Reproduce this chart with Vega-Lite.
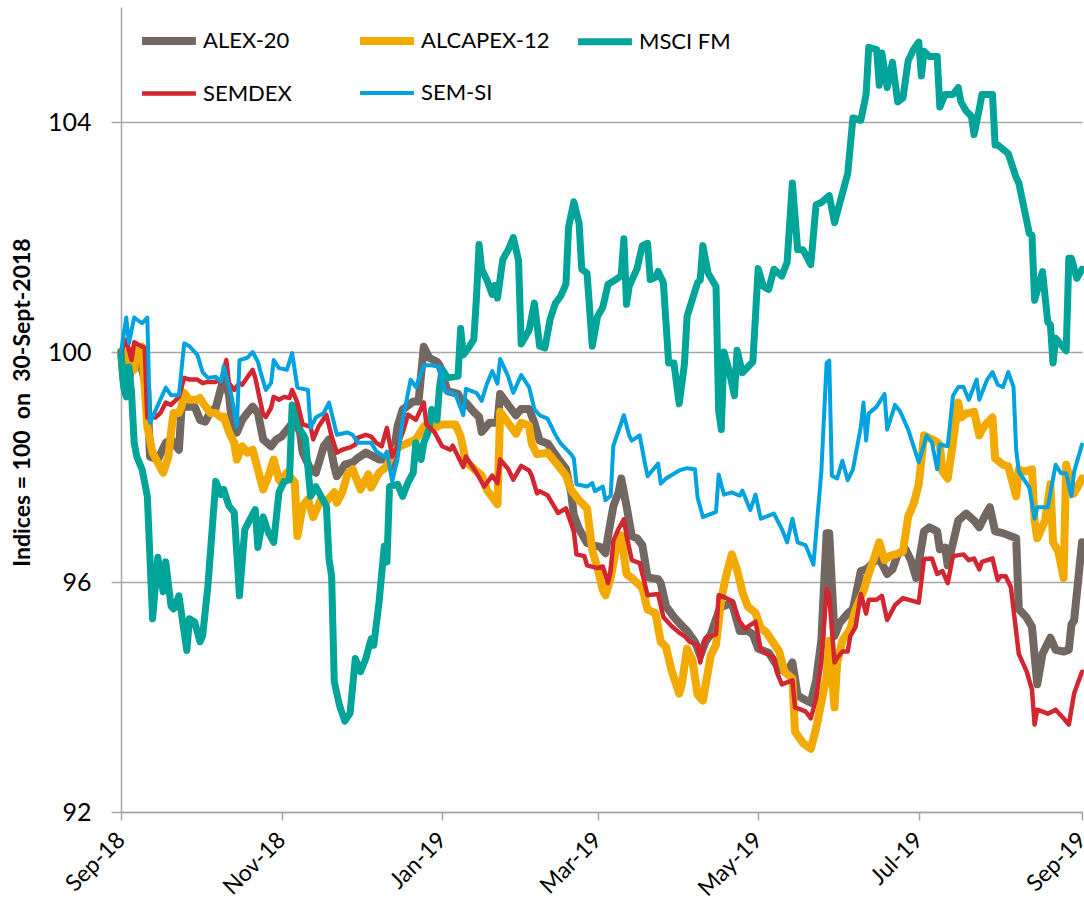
{
"$schema": "https://vega.github.io/schema/vega-lite/v6.json",
"width": 961, "height": 805,
"autosize": {"type": "none"},
"padding": {"left": 121, "top": 7, "right": 2, "bottom": 94},
"background": "white",
"config": {"view": {"stroke": null}, "font": "Lato"},
"data": {"values": [
{"date":"2018/09/30","series":"ALEX-20","value":100.0},{"date":"2018/10/01","series":"ALEX-20","value":99.5},{"date":"2018/10/02","series":"ALEX-20","value":99.29},{"date":"2018/10/04","series":"ALEX-20","value":99.74},{"date":"2018/10/06","series":"ALEX-20","value":99.98},{"date":"2018/10/08","series":"ALEX-20","value":99.69},{"date":"2018/10/10","series":"ALEX-20","value":99.34},{"date":"2018/10/11","series":"ALEX-20","value":98.18},{"date":"2018/10/14","series":"ALEX-20","value":98.13},{"date":"2018/10/17","series":"ALEX-20","value":98.42},{"date":"2018/10/19","series":"ALEX-20","value":98.48},{"date":"2018/10/22","series":"ALEX-20","value":98.3},{"date":"2018/10/23","series":"ALEX-20","value":99.03},{"date":"2018/10/25","series":"ALEX-20","value":99.05},{"date":"2018/10/28","series":"ALEX-20","value":99.05},{"date":"2018/10/30","series":"ALEX-20","value":98.82},{"date":"2018/11/01","series":"ALEX-20","value":98.79},{"date":"2018/11/03","series":"ALEX-20","value":98.96},{"date":"2018/11/05","series":"ALEX-20","value":99.03},{"date":"2018/11/08","series":"ALEX-20","value":99.55},{"date":"2018/11/10","series":"ALEX-20","value":99.26},{"date":"2018/11/11","series":"ALEX-20","value":98.82},{"date":"2018/11/13","series":"ALEX-20","value":98.6},{"date":"2018/11/15","series":"ALEX-20","value":98.82},{"date":"2018/11/17","series":"ALEX-20","value":98.94},{"date":"2018/11/19","series":"ALEX-20","value":99.05},{"date":"2018/11/21","series":"ALEX-20","value":98.94},{"date":"2018/11/23","series":"ALEX-20","value":98.48},{"date":"2018/11/26","series":"ALEX-20","value":98.36},{"date":"2018/11/28","series":"ALEX-20","value":98.48},{"date":"2018/11/30","series":"ALEX-20","value":98.53},{"date":"2018/12/03","series":"ALEX-20","value":98.7},{"date":"2018/12/05","series":"ALEX-20","value":98.82},{"date":"2018/12/07","series":"ALEX-20","value":98.6},{"date":"2018/12/08","series":"ALEX-20","value":98.25},{"date":"2018/12/11","series":"ALEX-20","value":97.96},{"date":"2018/12/13","series":"ALEX-20","value":97.9},{"date":"2018/12/16","series":"ALEX-20","value":98.36},{"date":"2018/12/18","series":"ALEX-20","value":98.48},{"date":"2018/12/20","series":"ALEX-20","value":98.01},{"date":"2018/12/21","series":"ALEX-20","value":97.84},{"date":"2018/12/24","series":"ALEX-20","value":98.04},{"date":"2018/12/27","series":"ALEX-20","value":98.08},{"date":"2018/12/29","series":"ALEX-20","value":98.16},{"date":"2019/01/01","series":"ALEX-20","value":98.25},{"date":"2019/01/04","series":"ALEX-20","value":98.18},{"date":"2019/01/06","series":"ALEX-20","value":98.13},{"date":"2019/01/09","series":"ALEX-20","value":98.13},{"date":"2019/01/11","series":"ALEX-20","value":98.01},{"date":"2019/01/13","series":"ALEX-20","value":98.7},{"date":"2019/01/15","series":"ALEX-20","value":99.0},{"date":"2019/01/19","series":"ALEX-20","value":99.14},{"date":"2019/01/21","series":"ALEX-20","value":99.14},{"date":"2019/01/23","series":"ALEX-20","value":100.09},{"date":"2019/01/25","series":"ALEX-20","value":99.9},{"date":"2019/01/28","series":"ALEX-20","value":99.83},{"date":"2019/01/29","series":"ALEX-20","value":99.77},{"date":"2019/02/01","series":"ALEX-20","value":99.32},{"date":"2019/02/05","series":"ALEX-20","value":99.27},{"date":"2019/02/07","series":"ALEX-20","value":99.08},{"date":"2019/02/08","series":"ALEX-20","value":99.12},{"date":"2019/02/11","series":"ALEX-20","value":98.96},{"date":"2019/02/13","series":"ALEX-20","value":98.87},{"date":"2019/02/14","series":"ALEX-20","value":98.61},{"date":"2019/02/17","series":"ALEX-20","value":98.77},{"date":"2019/02/20","series":"ALEX-20","value":98.77},{"date":"2019/02/21","series":"ALEX-20","value":99.27},{"date":"2019/02/24","series":"ALEX-20","value":99.08},{"date":"2019/02/27","series":"ALEX-20","value":98.9},{"date":"2019/03/01","series":"ALEX-20","value":99.01},{"date":"2019/03/04","series":"ALEX-20","value":99.01},{"date":"2019/03/06","series":"ALEX-20","value":98.77},{"date":"2019/03/08","series":"ALEX-20","value":98.46},{"date":"2019/03/11","series":"ALEX-20","value":98.41},{"date":"2019/03/15","series":"ALEX-20","value":98.15},{"date":"2019/03/18","series":"ALEX-20","value":97.97},{"date":"2019/03/20","series":"ALEX-20","value":97.54},{"date":"2019/03/21","series":"ALEX-20","value":97.16},{"date":"2019/03/23","series":"ALEX-20","value":96.92},{"date":"2019/03/26","series":"ALEX-20","value":96.68},{"date":"2019/03/28","series":"ALEX-20","value":96.64},{"date":"2019/03/31","series":"ALEX-20","value":96.61},{"date":"2019/04/02","series":"ALEX-20","value":96.5},{"date":"2019/04/03","series":"ALEX-20","value":96.8},{"date":"2019/04/05","series":"ALEX-20","value":97.32},{"date":"2019/04/07","series":"ALEX-20","value":97.56},{"date":"2019/04/08","series":"ALEX-20","value":97.8},{"date":"2019/04/10","series":"ALEX-20","value":97.32},{"date":"2019/04/12","series":"ALEX-20","value":96.8},{"date":"2019/04/14","series":"ALEX-20","value":96.76},{"date":"2019/04/16","series":"ALEX-20","value":96.64},{"date":"2019/04/18","series":"ALEX-20","value":96.08},{"date":"2019/04/22","series":"ALEX-20","value":96.05},{"date":"2019/04/23","series":"ALEX-20","value":95.98},{"date":"2019/04/25","series":"ALEX-20","value":95.58},{"date":"2019/04/28","series":"ALEX-20","value":95.39},{"date":"2019/05/01","series":"ALEX-20","value":95.24},{"date":"2019/05/03","series":"ALEX-20","value":95.15},{"date":"2019/05/06","series":"ALEX-20","value":94.96},{"date":"2019/05/08","series":"ALEX-20","value":94.72},{"date":"2019/05/10","series":"ALEX-20","value":94.96},{"date":"2019/05/12","series":"ALEX-20","value":95.09},{"date":"2019/05/16","series":"ALEX-20","value":95.62},{"date":"2019/05/17","series":"ALEX-20","value":95.58},{"date":"2019/05/20","series":"ALEX-20","value":95.64},{"date":"2019/05/23","series":"ALEX-20","value":95.15},{"date":"2019/05/26","series":"ALEX-20","value":95.15},{"date":"2019/05/28","series":"ALEX-20","value":95.09},{"date":"2019/05/30","series":"ALEX-20","value":94.84},{"date":"2019/06/03","series":"ALEX-20","value":94.77},{"date":"2019/06/07","series":"ALEX-20","value":94.48},{"date":"2019/06/10","series":"ALEX-20","value":94.44},{"date":"2019/06/12","series":"ALEX-20","value":94.6},{"date":"2019/06/14","series":"ALEX-20","value":94.03},{"date":"2019/06/16","series":"ALEX-20","value":93.97},{"date":"2019/06/19","series":"ALEX-20","value":93.9},{"date":"2019/06/21","series":"ALEX-20","value":94.29},{"date":"2019/06/23","series":"ALEX-20","value":94.98},{"date":"2019/06/25","series":"ALEX-20","value":96.85},{"date":"2019/06/26","series":"ALEX-20","value":96.85},{"date":"2019/06/28","series":"ALEX-20","value":95.06},{"date":"2019/06/30","series":"ALEX-20","value":95.29},{"date":"2019/07/03","series":"ALEX-20","value":95.45},{"date":"2019/07/05","series":"ALEX-20","value":95.53},{"date":"2019/07/08","series":"ALEX-20","value":96.19},{"date":"2019/07/10","series":"ALEX-20","value":96.22},{"date":"2019/07/13","series":"ALEX-20","value":96.35},{"date":"2019/07/15","series":"ALEX-20","value":96.41},{"date":"2019/07/18","series":"ALEX-20","value":96.14},{"date":"2019/07/20","series":"ALEX-20","value":96.22},{"date":"2019/07/22","series":"ALEX-20","value":96.48},{"date":"2019/07/25","series":"ALEX-20","value":96.57},{"date":"2019/07/27","series":"ALEX-20","value":96.38},{"date":"2019/07/29","series":"ALEX-20","value":96.07},{"date":"2019/08/01","series":"ALEX-20","value":96.88},{"date":"2019/08/03","series":"ALEX-20","value":96.95},{"date":"2019/08/06","series":"ALEX-20","value":96.88},{"date":"2019/08/07","series":"ALEX-20","value":96.57},{"date":"2019/08/09","series":"ALEX-20","value":96.6},{"date":"2019/08/10","series":"ALEX-20","value":96.29},{"date":"2019/08/14","series":"ALEX-20","value":97.07},{"date":"2019/08/17","series":"ALEX-20","value":97.19},{"date":"2019/08/20","series":"ALEX-20","value":97.07},{"date":"2019/08/22","series":"ALEX-20","value":96.95},{"date":"2019/08/24","series":"ALEX-20","value":97.14},{"date":"2019/08/26","series":"ALEX-20","value":97.3},{"date":"2019/08/28","series":"ALEX-20","value":96.88},{"date":"2019/08/31","series":"ALEX-20","value":96.85},{"date":"2019/09/05","series":"ALEX-20","value":96.76},{"date":"2019/09/06","series":"ALEX-20","value":95.53},{"date":"2019/09/09","series":"ALEX-20","value":95.38},{"date":"2019/09/11","series":"ALEX-20","value":95.22},{"date":"2019/09/13","series":"ALEX-20","value":94.22},{"date":"2019/09/15","series":"ALEX-20","value":94.75},{"date":"2019/09/18","series":"ALEX-20","value":95.03},{"date":"2019/09/20","series":"ALEX-20","value":94.82},{"date":"2019/09/23","series":"ALEX-20","value":94.79},{"date":"2019/09/25","series":"ALEX-20","value":94.82},{"date":"2019/09/26","series":"ALEX-20","value":95.26},{"date":"2019/09/27","series":"ALEX-20","value":95.33},{"date":"2019/09/30","series":"ALEX-20","value":96.69},
{"date":"2018/09/30","series":"ALCAPEX-12","value":100.0},{"date":"2018/10/01","series":"ALCAPEX-12","value":99.74},{"date":"2018/10/03","series":"ALCAPEX-12","value":100.03},{"date":"2018/10/05","series":"ALCAPEX-12","value":99.69},{"date":"2018/10/06","series":"ALCAPEX-12","value":100.03},{"date":"2018/10/08","series":"ALCAPEX-12","value":100.09},{"date":"2018/10/10","series":"ALCAPEX-12","value":98.7},{"date":"2018/10/12","series":"ALCAPEX-12","value":98.25},{"date":"2018/10/16","series":"ALCAPEX-12","value":97.9},{"date":"2018/10/18","series":"ALCAPEX-12","value":98.18},{"date":"2018/10/19","series":"ALCAPEX-12","value":98.6},{"date":"2018/10/20","series":"ALCAPEX-12","value":98.94},{"date":"2018/10/22","series":"ALCAPEX-12","value":98.94},{"date":"2018/10/23","series":"ALCAPEX-12","value":99.05},{"date":"2018/10/24","series":"ALCAPEX-12","value":99.29},{"date":"2018/10/26","series":"ALCAPEX-12","value":99.17},{"date":"2018/10/29","series":"ALCAPEX-12","value":99.17},{"date":"2018/10/30","series":"ALCAPEX-12","value":99.2},{"date":"2018/10/31","series":"ALCAPEX-12","value":99.12},{"date":"2018/11/03","series":"ALCAPEX-12","value":98.94},{"date":"2018/11/05","series":"ALCAPEX-12","value":98.94},{"date":"2018/11/07","series":"ALCAPEX-12","value":98.86},{"date":"2018/11/08","series":"ALCAPEX-12","value":98.88},{"date":"2018/11/10","series":"ALCAPEX-12","value":98.61},{"date":"2018/11/12","series":"ALCAPEX-12","value":98.42},{"date":"2018/11/13","series":"ALCAPEX-12","value":98.13},{"date":"2018/11/15","series":"ALCAPEX-12","value":98.36},{"date":"2018/11/17","series":"ALCAPEX-12","value":98.25},{"date":"2018/11/19","series":"ALCAPEX-12","value":98.3},{"date":"2018/11/23","series":"ALCAPEX-12","value":97.61},{"date":"2018/11/25","series":"ALCAPEX-12","value":97.84},{"date":"2018/11/27","series":"ALCAPEX-12","value":98.13},{"date":"2018/11/29","series":"ALCAPEX-12","value":97.78},{"date":"2018/11/30","series":"ALCAPEX-12","value":97.73},{"date":"2018/12/02","series":"ALCAPEX-12","value":97.9},{"date":"2018/12/05","series":"ALCAPEX-12","value":97.73},{"date":"2018/12/06","series":"ALCAPEX-12","value":96.8},{"date":"2018/12/08","series":"ALCAPEX-12","value":97.32},{"date":"2018/12/10","series":"ALCAPEX-12","value":97.44},{"date":"2018/12/12","series":"ALCAPEX-12","value":97.13},{"date":"2018/12/15","series":"ALCAPEX-12","value":97.44},{"date":"2018/12/17","series":"ALCAPEX-12","value":97.4},{"date":"2018/12/20","series":"ALCAPEX-12","value":97.56},{"date":"2018/12/21","series":"ALCAPEX-12","value":97.38},{"date":"2018/12/23","series":"ALCAPEX-12","value":97.56},{"date":"2018/12/25","series":"ALCAPEX-12","value":97.87},{"date":"2018/12/27","series":"ALCAPEX-12","value":97.96},{"date":"2018/12/30","series":"ALCAPEX-12","value":97.61},{"date":"2019/01/02","series":"ALCAPEX-12","value":97.87},{"date":"2019/01/03","series":"ALCAPEX-12","value":97.64},{"date":"2019/01/06","series":"ALCAPEX-12","value":97.9},{"date":"2019/01/09","series":"ALCAPEX-12","value":98.01},{"date":"2019/01/11","series":"ALCAPEX-12","value":98.25},{"date":"2019/01/14","series":"ALCAPEX-12","value":98.36},{"date":"2019/01/17","series":"ALCAPEX-12","value":98.42},{"date":"2019/01/20","series":"ALCAPEX-12","value":98.48},{"date":"2019/01/23","series":"ALCAPEX-12","value":98.7},{"date":"2019/01/25","series":"ALCAPEX-12","value":98.77},{"date":"2019/01/28","series":"ALCAPEX-12","value":98.7},{"date":"2019/01/30","series":"ALCAPEX-12","value":98.74},{"date":"2019/02/04","series":"ALCAPEX-12","value":98.74},{"date":"2019/02/06","series":"ALCAPEX-12","value":98.53},{"date":"2019/02/08","series":"ALCAPEX-12","value":98.1},{"date":"2019/02/11","series":"ALCAPEX-12","value":97.97},{"date":"2019/02/14","series":"ALCAPEX-12","value":97.85},{"date":"2019/02/16","series":"ALCAPEX-12","value":97.6},{"date":"2019/02/20","series":"ALCAPEX-12","value":97.35},{"date":"2019/02/21","series":"ALCAPEX-12","value":98.96},{"date":"2019/02/24","series":"ALCAPEX-12","value":98.77},{"date":"2019/02/27","series":"ALCAPEX-12","value":98.58},{"date":"2019/03/01","series":"ALCAPEX-12","value":98.77},{"date":"2019/03/04","series":"ALCAPEX-12","value":98.72},{"date":"2019/03/05","series":"ALCAPEX-12","value":98.41},{"date":"2019/03/07","series":"ALCAPEX-12","value":98.22},{"date":"2019/03/11","series":"ALCAPEX-12","value":98.25},{"date":"2019/03/15","series":"ALCAPEX-12","value":98.03},{"date":"2019/03/18","series":"ALCAPEX-12","value":97.85},{"date":"2019/03/20","series":"ALCAPEX-12","value":97.6},{"date":"2019/03/23","series":"ALCAPEX-12","value":97.42},{"date":"2019/03/26","series":"ALCAPEX-12","value":97.28},{"date":"2019/03/28","series":"ALCAPEX-12","value":96.55},{"date":"2019/03/30","series":"ALCAPEX-12","value":96.24},{"date":"2019/04/01","series":"ALCAPEX-12","value":95.86},{"date":"2019/04/02","series":"ALCAPEX-12","value":95.77},{"date":"2019/04/04","series":"ALCAPEX-12","value":96.07},{"date":"2019/04/06","series":"ALCAPEX-12","value":96.57},{"date":"2019/04/08","series":"ALCAPEX-12","value":96.81},{"date":"2019/04/10","series":"ALCAPEX-12","value":96.14},{"date":"2019/04/12","series":"ALCAPEX-12","value":96.07},{"date":"2019/04/16","series":"ALCAPEX-12","value":95.9},{"date":"2019/04/18","series":"ALCAPEX-12","value":95.52},{"date":"2019/04/21","series":"ALCAPEX-12","value":95.46},{"date":"2019/04/23","series":"ALCAPEX-12","value":94.96},{"date":"2019/04/25","series":"ALCAPEX-12","value":94.87},{"date":"2019/04/27","series":"ALCAPEX-12","value":94.48},{"date":"2019/04/30","series":"ALCAPEX-12","value":94.06},{"date":"2019/05/01","series":"ALCAPEX-12","value":94.22},{"date":"2019/05/03","series":"ALCAPEX-12","value":94.84},{"date":"2019/05/05","series":"ALCAPEX-12","value":94.65},{"date":"2019/05/07","series":"ALCAPEX-12","value":94.04},{"date":"2019/05/09","series":"ALCAPEX-12","value":93.94},{"date":"2019/05/12","series":"ALCAPEX-12","value":94.72},{"date":"2019/05/14","series":"ALCAPEX-12","value":94.91},{"date":"2019/05/16","series":"ALCAPEX-12","value":95.71},{"date":"2019/05/18","series":"ALCAPEX-12","value":96.14},{"date":"2019/05/20","series":"ALCAPEX-12","value":96.48},{"date":"2019/05/22","series":"ALCAPEX-12","value":96.21},{"date":"2019/05/24","series":"ALCAPEX-12","value":95.83},{"date":"2019/05/26","series":"ALCAPEX-12","value":95.58},{"date":"2019/05/29","series":"ALCAPEX-12","value":95.46},{"date":"2019/05/31","series":"ALCAPEX-12","value":95.2},{"date":"2019/06/02","series":"ALCAPEX-12","value":95.13},{"date":"2019/06/03","series":"ALCAPEX-12","value":95.06},{"date":"2019/06/07","series":"ALCAPEX-12","value":94.79},{"date":"2019/06/09","series":"ALCAPEX-12","value":94.44},{"date":"2019/06/12","series":"ALCAPEX-12","value":94.32},{"date":"2019/06/13","series":"ALCAPEX-12","value":93.4},{"date":"2019/06/16","series":"ALCAPEX-12","value":93.2},{"date":"2019/06/19","series":"ALCAPEX-12","value":93.1},{"date":"2019/06/21","series":"ALCAPEX-12","value":93.45},{"date":"2019/06/22","series":"ALCAPEX-12","value":93.68},{"date":"2019/06/25","series":"ALCAPEX-12","value":94.37},{"date":"2019/06/26","series":"ALCAPEX-12","value":94.98},{"date":"2019/06/28","series":"ALCAPEX-12","value":93.82},{"date":"2019/06/29","series":"ALCAPEX-12","value":94.6},{"date":"2019/07/01","series":"ALCAPEX-12","value":94.98},{"date":"2019/07/04","series":"ALCAPEX-12","value":95.19},{"date":"2019/07/06","series":"ALCAPEX-12","value":95.53},{"date":"2019/07/09","series":"ALCAPEX-12","value":95.84},{"date":"2019/07/11","series":"ALCAPEX-12","value":96.14},{"date":"2019/07/13","series":"ALCAPEX-12","value":96.41},{"date":"2019/07/15","series":"ALCAPEX-12","value":96.69},{"date":"2019/07/17","series":"ALCAPEX-12","value":96.38},{"date":"2019/07/19","series":"ALCAPEX-12","value":96.45},{"date":"2019/07/21","series":"ALCAPEX-12","value":96.48},{"date":"2019/07/24","series":"ALCAPEX-12","value":96.53},{"date":"2019/07/26","series":"ALCAPEX-12","value":97.14},{"date":"2019/07/28","series":"ALCAPEX-12","value":97.35},{"date":"2019/07/30","series":"ALCAPEX-12","value":97.7},{"date":"2019/08/01","series":"ALCAPEX-12","value":98.55},{"date":"2019/08/03","series":"ALCAPEX-12","value":98.5},{"date":"2019/08/05","series":"ALCAPEX-12","value":98.46},{"date":"2019/08/07","series":"ALCAPEX-12","value":98.39},{"date":"2019/08/08","series":"ALCAPEX-12","value":97.92},{"date":"2019/08/10","series":"ALCAPEX-12","value":97.8},{"date":"2019/08/12","series":"ALCAPEX-12","value":98.43},{"date":"2019/08/14","series":"ALCAPEX-12","value":99.12},{"date":"2019/08/15","series":"ALCAPEX-12","value":98.86},{"date":"2019/08/17","series":"ALCAPEX-12","value":98.93},{"date":"2019/08/20","series":"ALCAPEX-12","value":98.96},{"date":"2019/08/22","series":"ALCAPEX-12","value":98.55},{"date":"2019/08/23","series":"ALCAPEX-12","value":98.65},{"date":"2019/08/25","series":"ALCAPEX-12","value":98.77},{"date":"2019/08/27","series":"ALCAPEX-12","value":98.86},{"date":"2019/08/28","series":"ALCAPEX-12","value":98.15},{"date":"2019/08/31","series":"ALCAPEX-12","value":98.04},{"date":"2019/09/02","series":"ALCAPEX-12","value":98.01},{"date":"2019/09/05","series":"ALCAPEX-12","value":97.49},{"date":"2019/09/06","series":"ALCAPEX-12","value":97.96},{"date":"2019/09/08","series":"ALCAPEX-12","value":97.92},{"date":"2019/09/11","series":"ALCAPEX-12","value":97.96},{"date":"2019/09/12","series":"ALCAPEX-12","value":97.07},{"date":"2019/09/13","series":"ALCAPEX-12","value":96.76},{"date":"2019/09/16","series":"ALCAPEX-12","value":97.07},{"date":"2019/09/18","series":"ALCAPEX-12","value":97.7},{"date":"2019/09/19","series":"ALCAPEX-12","value":96.69},{"date":"2019/09/21","series":"ALCAPEX-12","value":96.53},{"date":"2019/09/23","series":"ALCAPEX-12","value":96.07},{"date":"2019/09/24","series":"ALCAPEX-12","value":98.04},{"date":"2019/09/25","series":"ALCAPEX-12","value":97.85},{"date":"2019/09/27","series":"ALCAPEX-12","value":97.54},{"date":"2019/09/30","series":"ALCAPEX-12","value":97.8},
{"date":"2018/09/30","series":"MSCI FM","value":100.0},{"date":"2018/10/01","series":"MSCI FM","value":99.39},{"date":"2018/10/02","series":"MSCI FM","value":99.22},{"date":"2018/10/03","series":"MSCI FM","value":99.74},{"date":"2018/10/04","series":"MSCI FM","value":99.3},{"date":"2018/10/05","series":"MSCI FM","value":98.42},{"date":"2018/10/06","series":"MSCI FM","value":98.18},{"date":"2018/10/08","series":"MSCI FM","value":97.96},{"date":"2018/10/10","series":"MSCI FM","value":97.49},{"date":"2018/10/12","series":"MSCI FM","value":95.36},{"date":"2018/10/14","series":"MSCI FM","value":96.43},{"date":"2018/10/16","series":"MSCI FM","value":95.83},{"date":"2018/10/17","series":"MSCI FM","value":96.35},{"date":"2018/10/19","series":"MSCI FM","value":95.58},{"date":"2018/10/20","series":"MSCI FM","value":95.53},{"date":"2018/10/22","series":"MSCI FM","value":95.76},{"date":"2018/10/25","series":"MSCI FM","value":94.81},{"date":"2018/10/26","series":"MSCI FM","value":95.36},{"date":"2018/10/28","series":"MSCI FM","value":95.3},{"date":"2018/10/30","series":"MSCI FM","value":94.96},{"date":"2018/10/31","series":"MSCI FM","value":95.06},{"date":"2018/11/02","series":"MSCI FM","value":95.93},{"date":"2018/11/05","series":"MSCI FM","value":97.75},{"date":"2018/11/07","series":"MSCI FM","value":97.52},{"date":"2018/11/08","series":"MSCI FM","value":97.61},{"date":"2018/11/10","series":"MSCI FM","value":97.32},{"date":"2018/11/12","series":"MSCI FM","value":97.21},{"date":"2018/11/14","series":"MSCI FM","value":95.76},{"date":"2018/11/16","series":"MSCI FM","value":96.91},{"date":"2018/11/18","series":"MSCI FM","value":97.09},{"date":"2018/11/20","series":"MSCI FM","value":97.26},{"date":"2018/11/21","series":"MSCI FM","value":96.6},{"date":"2018/11/23","series":"MSCI FM","value":97.13},{"date":"2018/11/25","series":"MSCI FM","value":96.86},{"date":"2018/11/27","series":"MSCI FM","value":96.69},{"date":"2018/11/29","series":"MSCI FM","value":97.56},{"date":"2018/12/01","series":"MSCI FM","value":97.75},{"date":"2018/12/03","series":"MSCI FM","value":97.78},{"date":"2018/12/04","series":"MSCI FM","value":99.08},{"date":"2018/12/06","series":"MSCI FM","value":99.0},{"date":"2018/12/07","series":"MSCI FM","value":98.65},{"date":"2018/12/09","series":"MSCI FM","value":98.5},{"date":"2018/12/11","series":"MSCI FM","value":97.49},{"date":"2018/12/13","series":"MSCI FM","value":97.66},{"date":"2018/12/15","series":"MSCI FM","value":97.49},{"date":"2018/12/17","series":"MSCI FM","value":97.32},{"date":"2018/12/18","series":"MSCI FM","value":96.4},{"date":"2018/12/19","series":"MSCI FM","value":96.1},{"date":"2018/12/20","series":"MSCI FM","value":94.27},{"date":"2018/12/22","series":"MSCI FM","value":93.85},{"date":"2018/12/24","series":"MSCI FM","value":93.58},{"date":"2018/12/26","series":"MSCI FM","value":93.72},{"date":"2018/12/28","series":"MSCI FM","value":94.67},{"date":"2018/12/30","series":"MSCI FM","value":94.44},{"date":"2019/01/01","series":"MSCI FM","value":94.67},{"date":"2019/01/03","series":"MSCI FM","value":95.01},{"date":"2019/01/04","series":"MSCI FM","value":94.9},{"date":"2019/01/06","series":"MSCI FM","value":95.65},{"date":"2019/01/08","series":"MSCI FM","value":96.62},{"date":"2019/01/09","series":"MSCI FM","value":96.35},{"date":"2019/01/10","series":"MSCI FM","value":97.66},{"date":"2019/01/13","series":"MSCI FM","value":97.7},{"date":"2019/01/15","series":"MSCI FM","value":97.49},{"date":"2019/01/17","series":"MSCI FM","value":97.73},{"date":"2019/01/19","series":"MSCI FM","value":97.9},{"date":"2019/01/20","series":"MSCI FM","value":98.42},{"date":"2019/01/22","series":"MSCI FM","value":98.13},{"date":"2019/01/23","series":"MSCI FM","value":98.42},{"date":"2019/01/25","series":"MSCI FM","value":98.65},{"date":"2019/01/26","series":"MSCI FM","value":99.0},{"date":"2019/01/28","series":"MSCI FM","value":98.82},{"date":"2019/01/29","series":"MSCI FM","value":99.4},{"date":"2019/01/30","series":"MSCI FM","value":99.7},{"date":"2019/02/01","series":"MSCI FM","value":99.55},{"date":"2019/02/05","series":"MSCI FM","value":99.58},{"date":"2019/02/06","series":"MSCI FM","value":100.41},{"date":"2019/02/07","series":"MSCI FM","value":99.95},{"date":"2019/02/09","series":"MSCI FM","value":100.07},{"date":"2019/02/11","series":"MSCI FM","value":100.22},{"date":"2019/02/12","series":"MSCI FM","value":100.94},{"date":"2019/02/13","series":"MSCI FM","value":101.87},{"date":"2019/02/14","series":"MSCI FM","value":101.44},{"date":"2019/02/16","series":"MSCI FM","value":101.25},{"date":"2019/02/18","series":"MSCI FM","value":101.0},{"date":"2019/02/19","series":"MSCI FM","value":101.16},{"date":"2019/02/20","series":"MSCI FM","value":100.94},{"date":"2019/02/22","series":"MSCI FM","value":101.61},{"date":"2019/02/24","series":"MSCI FM","value":101.77},{"date":"2019/02/26","series":"MSCI FM","value":101.99},{"date":"2019/02/28","series":"MSCI FM","value":101.59},{"date":"2019/03/01","series":"MSCI FM","value":100.14},{"date":"2019/03/04","series":"MSCI FM","value":100.38},{"date":"2019/03/06","series":"MSCI FM","value":100.85},{"date":"2019/03/08","series":"MSCI FM","value":100.1},{"date":"2019/03/10","series":"MSCI FM","value":100.07},{"date":"2019/03/12","series":"MSCI FM","value":100.57},{"date":"2019/03/14","series":"MSCI FM","value":100.85},{"date":"2019/03/16","series":"MSCI FM","value":100.97},{"date":"2019/03/18","series":"MSCI FM","value":101.18},{"date":"2019/03/19","series":"MSCI FM","value":102.18},{"date":"2019/03/21","series":"MSCI FM","value":102.61},{"date":"2019/03/23","series":"MSCI FM","value":102.23},{"date":"2019/03/24","series":"MSCI FM","value":101.44},{"date":"2019/03/26","series":"MSCI FM","value":101.37},{"date":"2019/03/28","series":"MSCI FM","value":100.1},{"date":"2019/03/30","series":"MSCI FM","value":100.62},{"date":"2019/04/01","series":"MSCI FM","value":100.78},{"date":"2019/04/03","series":"MSCI FM","value":101.18},{"date":"2019/04/06","series":"MSCI FM","value":101.26},{"date":"2019/04/08","series":"MSCI FM","value":101.33},{"date":"2019/04/09","series":"MSCI FM","value":101.97},{"date":"2019/04/10","series":"MSCI FM","value":100.83},{"date":"2019/04/11","series":"MSCI FM","value":101.14},{"date":"2019/04/14","series":"MSCI FM","value":101.45},{"date":"2019/04/16","series":"MSCI FM","value":101.85},{"date":"2019/04/18","series":"MSCI FM","value":101.89},{"date":"2019/04/19","series":"MSCI FM","value":101.26},{"date":"2019/04/21","series":"MSCI FM","value":101.3},{"date":"2019/04/22","series":"MSCI FM","value":101.4},{"date":"2019/04/24","series":"MSCI FM","value":101.21},{"date":"2019/04/26","series":"MSCI FM","value":99.81},{"date":"2019/04/28","series":"MSCI FM","value":99.81},{"date":"2019/04/30","series":"MSCI FM","value":99.1},{"date":"2019/05/02","series":"MSCI FM","value":99.79},{"date":"2019/05/03","series":"MSCI FM","value":100.62},{"date":"2019/05/07","series":"MSCI FM","value":101.21},{"date":"2019/05/08","series":"MSCI FM","value":101.25},{"date":"2019/05/09","series":"MSCI FM","value":101.85},{"date":"2019/05/11","series":"MSCI FM","value":101.37},{"date":"2019/05/14","series":"MSCI FM","value":101.14},{"date":"2019/05/15","series":"MSCI FM","value":98.98},{"date":"2019/05/16","series":"MSCI FM","value":98.65},{"date":"2019/05/17","series":"MSCI FM","value":100.0},{"date":"2019/05/19","series":"MSCI FM","value":99.67},{"date":"2019/05/21","series":"MSCI FM","value":99.24},{"date":"2019/05/22","series":"MSCI FM","value":100.03},{"date":"2019/05/24","series":"MSCI FM","value":99.64},{"date":"2019/05/28","series":"MSCI FM","value":99.83},{"date":"2019/05/30","series":"MSCI FM","value":101.45},{"date":"2019/06/01","series":"MSCI FM","value":101.14},{"date":"2019/06/03","series":"MSCI FM","value":101.09},{"date":"2019/06/05","series":"MSCI FM","value":101.44},{"date":"2019/06/08","series":"MSCI FM","value":101.32},{"date":"2019/06/10","series":"MSCI FM","value":101.56},{"date":"2019/06/12","series":"MSCI FM","value":102.94},{"date":"2019/06/14","series":"MSCI FM","value":101.78},{"date":"2019/06/16","series":"MSCI FM","value":101.78},{"date":"2019/06/19","series":"MSCI FM","value":101.52},{"date":"2019/06/21","series":"MSCI FM","value":102.56},{"date":"2019/06/23","series":"MSCI FM","value":102.6},{"date":"2019/06/26","series":"MSCI FM","value":102.72},{"date":"2019/06/28","series":"MSCI FM","value":102.25},{"date":"2019/07/03","series":"MSCI FM","value":103.1},{"date":"2019/07/05","series":"MSCI FM","value":104.07},{"date":"2019/07/08","series":"MSCI FM","value":104.03},{"date":"2019/07/10","series":"MSCI FM","value":104.48},{"date":"2019/07/11","series":"MSCI FM","value":105.3},{"date":"2019/07/14","series":"MSCI FM","value":105.26},{"date":"2019/07/15","series":"MSCI FM","value":104.64},{"date":"2019/07/16","series":"MSCI FM","value":105.2},{"date":"2019/07/18","series":"MSCI FM","value":104.6},{"date":"2019/07/20","series":"MSCI FM","value":105.04},{"date":"2019/07/22","series":"MSCI FM","value":104.35},{"date":"2019/07/24","series":"MSCI FM","value":104.42},{"date":"2019/07/26","series":"MSCI FM","value":105.07},{"date":"2019/07/28","series":"MSCI FM","value":105.26},{"date":"2019/07/30","series":"MSCI FM","value":105.39},{"date":"2019/07/31","series":"MSCI FM","value":104.8},{"date":"2019/08/01","series":"MSCI FM","value":105.23},{"date":"2019/08/03","series":"MSCI FM","value":105.14},{"date":"2019/08/06","series":"MSCI FM","value":105.14},{"date":"2019/08/07","series":"MSCI FM","value":104.26},{"date":"2019/08/09","series":"MSCI FM","value":104.48},{"date":"2019/08/12","series":"MSCI FM","value":104.48},{"date":"2019/08/14","series":"MSCI FM","value":104.6},{"date":"2019/08/15","series":"MSCI FM","value":104.35},{"date":"2019/08/17","series":"MSCI FM","value":104.19},{"date":"2019/08/19","series":"MSCI FM","value":104.1},{"date":"2019/08/20","series":"MSCI FM","value":103.78},{"date":"2019/08/22","series":"MSCI FM","value":104.23},{"date":"2019/08/23","series":"MSCI FM","value":104.48},{"date":"2019/08/27","series":"MSCI FM","value":104.48},{"date":"2019/08/28","series":"MSCI FM","value":103.6},{"date":"2019/08/29","series":"MSCI FM","value":103.6},{"date":"2019/09/02","series":"MSCI FM","value":103.45},{"date":"2019/09/05","series":"MSCI FM","value":103.03},{"date":"2019/09/06","series":"MSCI FM","value":102.94},{"date":"2019/09/10","series":"MSCI FM","value":102.06},{"date":"2019/09/11","series":"MSCI FM","value":102.03},{"date":"2019/09/12","series":"MSCI FM","value":100.9},{"date":"2019/09/15","series":"MSCI FM","value":101.4},{"date":"2019/09/17","series":"MSCI FM","value":100.52},{"date":"2019/09/18","series":"MSCI FM","value":100.47},{"date":"2019/09/19","series":"MSCI FM","value":99.81},{"date":"2019/09/20","series":"MSCI FM","value":100.24},{"date":"2019/09/24","series":"MSCI FM","value":100.02},{"date":"2019/09/25","series":"MSCI FM","value":101.63},{"date":"2019/09/26","series":"MSCI FM","value":101.63},{"date":"2019/09/28","series":"MSCI FM","value":101.28},{"date":"2019/09/30","series":"MSCI FM","value":101.44},
{"date":"2018/09/30","series":"SEMDEX","value":100.0},{"date":"2018/10/02","series":"SEMDEX","value":100.21},{"date":"2018/10/04","series":"SEMDEX","value":99.86},{"date":"2018/10/05","series":"SEMDEX","value":100.17},{"date":"2018/10/07","series":"SEMDEX","value":100.12},{"date":"2018/10/09","series":"SEMDEX","value":100.07},{"date":"2018/10/10","series":"SEMDEX","value":98.86},{"date":"2018/10/13","series":"SEMDEX","value":98.86},{"date":"2018/10/15","series":"SEMDEX","value":98.94},{"date":"2018/10/17","series":"SEMDEX","value":99.12},{"date":"2018/10/19","series":"SEMDEX","value":99.08},{"date":"2018/10/21","series":"SEMDEX","value":99.17},{"date":"2018/10/22","series":"SEMDEX","value":99.22},{"date":"2018/10/24","series":"SEMDEX","value":99.55},{"date":"2018/10/26","series":"SEMDEX","value":99.52},{"date":"2018/10/29","series":"SEMDEX","value":99.52},{"date":"2018/10/31","series":"SEMDEX","value":99.46},{"date":"2018/11/02","series":"SEMDEX","value":99.48},{"date":"2018/11/05","series":"SEMDEX","value":99.48},{"date":"2018/11/06","series":"SEMDEX","value":99.52},{"date":"2018/11/07","series":"SEMDEX","value":99.46},{"date":"2018/11/09","series":"SEMDEX","value":99.86},{"date":"2018/11/10","series":"SEMDEX","value":99.46},{"date":"2018/11/12","series":"SEMDEX","value":99.34},{"date":"2018/11/14","series":"SEMDEX","value":99.46},{"date":"2018/11/15","series":"SEMDEX","value":99.43},{"date":"2018/11/19","series":"SEMDEX","value":99.69},{"date":"2018/11/20","series":"SEMDEX","value":99.55},{"date":"2018/11/23","series":"SEMDEX","value":98.91},{"date":"2018/11/24","series":"SEMDEX","value":98.87},{"date":"2018/11/26","series":"SEMDEX","value":99.03},{"date":"2018/11/27","series":"SEMDEX","value":99.22},{"date":"2018/11/29","series":"SEMDEX","value":99.17},{"date":"2018/12/01","series":"SEMDEX","value":99.22},{"date":"2018/12/03","series":"SEMDEX","value":99.2},{"date":"2018/12/04","series":"SEMDEX","value":99.34},{"date":"2018/12/06","series":"SEMDEX","value":99.12},{"date":"2018/12/08","series":"SEMDEX","value":98.74},{"date":"2018/12/11","series":"SEMDEX","value":98.7},{"date":"2018/12/12","series":"SEMDEX","value":98.48},{"date":"2018/12/14","series":"SEMDEX","value":98.7},{"date":"2018/12/17","series":"SEMDEX","value":98.91},{"date":"2018/12/19","series":"SEMDEX","value":98.53},{"date":"2018/12/21","series":"SEMDEX","value":98.25},{"date":"2018/12/23","series":"SEMDEX","value":98.3},{"date":"2018/12/26","series":"SEMDEX","value":98.34},{"date":"2018/12/28","series":"SEMDEX","value":98.39},{"date":"2018/12/29","series":"SEMDEX","value":98.51},{"date":"2019/01/01","series":"SEMDEX","value":98.56},{"date":"2019/01/03","series":"SEMDEX","value":98.53},{"date":"2019/01/05","series":"SEMDEX","value":98.42},{"date":"2019/01/07","series":"SEMDEX","value":98.36},{"date":"2019/01/09","series":"SEMDEX","value":98.68},{"date":"2019/01/11","series":"SEMDEX","value":98.18},{"date":"2019/01/13","series":"SEMDEX","value":98.36},{"date":"2019/01/15","series":"SEMDEX","value":98.6},{"date":"2019/01/17","series":"SEMDEX","value":98.91},{"date":"2019/01/20","series":"SEMDEX","value":98.82},{"date":"2019/01/23","series":"SEMDEX","value":99.12},{"date":"2019/01/24","series":"SEMDEX","value":98.74},{"date":"2019/01/27","series":"SEMDEX","value":98.61},{"date":"2019/01/30","series":"SEMDEX","value":98.36},{"date":"2019/02/02","series":"SEMDEX","value":98.3},{"date":"2019/02/03","series":"SEMDEX","value":98.37},{"date":"2019/02/07","series":"SEMDEX","value":98.0},{"date":"2019/02/08","series":"SEMDEX","value":98.18},{"date":"2019/02/12","series":"SEMDEX","value":97.9},{"date":"2019/02/15","series":"SEMDEX","value":97.66},{"date":"2019/02/18","series":"SEMDEX","value":97.85},{"date":"2019/02/20","series":"SEMDEX","value":97.72},{"date":"2019/02/21","series":"SEMDEX","value":98.13},{"date":"2019/02/24","series":"SEMDEX","value":97.97},{"date":"2019/02/26","series":"SEMDEX","value":97.78},{"date":"2019/03/01","series":"SEMDEX","value":98.02},{"date":"2019/03/04","series":"SEMDEX","value":97.94},{"date":"2019/03/05","series":"SEMDEX","value":97.85},{"date":"2019/03/07","series":"SEMDEX","value":97.54},{"date":"2019/03/08","series":"SEMDEX","value":97.58},{"date":"2019/03/11","series":"SEMDEX","value":97.51},{"date":"2019/03/15","series":"SEMDEX","value":97.2},{"date":"2019/03/18","series":"SEMDEX","value":97.28},{"date":"2019/03/21","series":"SEMDEX","value":96.88},{"date":"2019/03/22","series":"SEMDEX","value":96.48},{"date":"2019/03/25","series":"SEMDEX","value":96.45},{"date":"2019/03/26","series":"SEMDEX","value":96.29},{"date":"2019/03/30","series":"SEMDEX","value":96.24},{"date":"2019/04/01","series":"SEMDEX","value":96.27},{"date":"2019/04/03","series":"SEMDEX","value":95.98},{"date":"2019/04/04","series":"SEMDEX","value":96.2},{"date":"2019/04/05","series":"SEMDEX","value":96.72},{"date":"2019/04/07","series":"SEMDEX","value":96.93},{"date":"2019/04/09","series":"SEMDEX","value":97.09},{"date":"2019/04/10","series":"SEMDEX","value":96.81},{"date":"2019/04/12","series":"SEMDEX","value":96.38},{"date":"2019/04/15","series":"SEMDEX","value":96.33},{"date":"2019/04/18","series":"SEMDEX","value":95.77},{"date":"2019/04/22","series":"SEMDEX","value":95.79},{"date":"2019/04/24","series":"SEMDEX","value":95.39},{"date":"2019/04/27","series":"SEMDEX","value":95.24},{"date":"2019/04/30","series":"SEMDEX","value":95.12},{"date":"2019/05/02","series":"SEMDEX","value":95.06},{"date":"2019/05/04","series":"SEMDEX","value":94.96},{"date":"2019/05/07","series":"SEMDEX","value":94.91},{"date":"2019/05/08","series":"SEMDEX","value":94.6},{"date":"2019/05/10","series":"SEMDEX","value":95.03},{"date":"2019/05/14","series":"SEMDEX","value":95.09},{"date":"2019/05/15","series":"SEMDEX","value":95.77},{"date":"2019/05/17","series":"SEMDEX","value":95.74},{"date":"2019/05/20","series":"SEMDEX","value":95.67},{"date":"2019/05/23","series":"SEMDEX","value":95.31},{"date":"2019/05/25","series":"SEMDEX","value":95.19},{"date":"2019/05/29","series":"SEMDEX","value":95.31},{"date":"2019/05/31","series":"SEMDEX","value":94.82},{"date":"2019/06/05","series":"SEMDEX","value":94.68},{"date":"2019/06/06","series":"SEMDEX","value":94.44},{"date":"2019/06/08","series":"SEMDEX","value":94.22},{"date":"2019/06/12","series":"SEMDEX","value":94.29},{"date":"2019/06/13","series":"SEMDEX","value":93.82},{"date":"2019/06/17","series":"SEMDEX","value":93.75},{"date":"2019/06/19","series":"SEMDEX","value":93.63},{"date":"2019/06/21","series":"SEMDEX","value":93.97},{"date":"2019/06/23","series":"SEMDEX","value":94.6},{"date":"2019/06/25","series":"SEMDEX","value":95.88},{"date":"2019/06/26","series":"SEMDEX","value":95.76},{"date":"2019/06/28","series":"SEMDEX","value":94.6},{"date":"2019/06/29","series":"SEMDEX","value":94.68},{"date":"2019/07/01","series":"SEMDEX","value":94.79},{"date":"2019/07/03","series":"SEMDEX","value":94.79},{"date":"2019/07/04","series":"SEMDEX","value":95.06},{"date":"2019/07/06","series":"SEMDEX","value":95.22},{"date":"2019/07/08","series":"SEMDEX","value":95.79},{"date":"2019/07/10","series":"SEMDEX","value":95.45},{"date":"2019/07/11","series":"SEMDEX","value":95.69},{"date":"2019/07/14","series":"SEMDEX","value":95.69},{"date":"2019/07/16","series":"SEMDEX","value":95.76},{"date":"2019/07/18","series":"SEMDEX","value":95.34},{"date":"2019/07/21","series":"SEMDEX","value":95.6},{"date":"2019/07/24","series":"SEMDEX","value":95.72},{"date":"2019/07/30","series":"SEMDEX","value":95.64},{"date":"2019/08/01","series":"SEMDEX","value":96.4},{"date":"2019/08/04","series":"SEMDEX","value":96.41},{"date":"2019/08/06","series":"SEMDEX","value":96.14},{"date":"2019/08/08","series":"SEMDEX","value":96.19},{"date":"2019/08/10","series":"SEMDEX","value":95.98},{"date":"2019/08/12","series":"SEMDEX","value":96.45},{"date":"2019/08/16","series":"SEMDEX","value":96.48},{"date":"2019/08/18","series":"SEMDEX","value":96.38},{"date":"2019/08/20","series":"SEMDEX","value":96.41},{"date":"2019/08/22","series":"SEMDEX","value":96.22},{"date":"2019/08/23","series":"SEMDEX","value":96.35},{"date":"2019/08/27","series":"SEMDEX","value":96.41},{"date":"2019/08/29","series":"SEMDEX","value":96.03},{"date":"2019/08/30","series":"SEMDEX","value":96.1},{"date":"2019/09/01","series":"SEMDEX","value":96.1},{"date":"2019/09/03","series":"SEMDEX","value":95.91},{"date":"2019/09/06","series":"SEMDEX","value":94.75},{"date":"2019/09/09","series":"SEMDEX","value":94.44},{"date":"2019/09/11","series":"SEMDEX","value":94.13},{"date":"2019/09/12","series":"SEMDEX","value":93.52},{"date":"2019/09/13","series":"SEMDEX","value":93.78},{"date":"2019/09/17","series":"SEMDEX","value":93.71},{"date":"2019/09/20","series":"SEMDEX","value":93.78},{"date":"2019/09/23","series":"SEMDEX","value":93.63},{"date":"2019/09/25","series":"SEMDEX","value":93.52},{"date":"2019/09/27","series":"SEMDEX","value":94.06},{"date":"2019/09/30","series":"SEMDEX","value":94.44},
{"date":"2018/09/30","series":"SEM-SI","value":100.0},{"date":"2018/10/02","series":"SEM-SI","value":100.6},{"date":"2018/10/03","series":"SEM-SI","value":100.15},{"date":"2018/10/05","series":"SEM-SI","value":100.6},{"date":"2018/10/08","series":"SEM-SI","value":100.5},{"date":"2018/10/10","series":"SEM-SI","value":100.6},{"date":"2018/10/11","series":"SEM-SI","value":98.77},{"date":"2018/10/17","series":"SEM-SI","value":99.38},{"date":"2018/10/19","series":"SEM-SI","value":99.25},{"date":"2018/10/22","series":"SEM-SI","value":99.25},{"date":"2018/10/24","series":"SEM-SI","value":100.15},{"date":"2018/10/26","series":"SEM-SI","value":100.1},{"date":"2018/10/29","series":"SEM-SI","value":99.95},{"date":"2018/10/31","series":"SEM-SI","value":99.65},{"date":"2018/11/02","series":"SEM-SI","value":99.55},{"date":"2018/11/05","series":"SEM-SI","value":99.57},{"date":"2018/11/07","series":"SEM-SI","value":99.48},{"date":"2018/11/08","series":"SEM-SI","value":99.75},{"date":"2018/11/11","series":"SEM-SI","value":99.23},{"date":"2018/11/13","series":"SEM-SI","value":98.7},{"date":"2018/11/14","series":"SEM-SI","value":99.86},{"date":"2018/11/17","series":"SEM-SI","value":99.9},{"date":"2018/11/19","series":"SEM-SI","value":100.0},{"date":"2018/11/21","series":"SEM-SI","value":99.83},{"date":"2018/11/22","series":"SEM-SI","value":99.65},{"date":"2018/11/24","series":"SEM-SI","value":99.34},{"date":"2018/11/26","series":"SEM-SI","value":99.46},{"date":"2018/11/27","series":"SEM-SI","value":99.86},{"date":"2018/11/29","series":"SEM-SI","value":99.72},{"date":"2018/12/02","series":"SEM-SI","value":99.69},{"date":"2018/12/04","series":"SEM-SI","value":99.98},{"date":"2018/12/06","series":"SEM-SI","value":99.38},{"date":"2018/12/10","series":"SEM-SI","value":99.34},{"date":"2018/12/11","series":"SEM-SI","value":98.68},{"date":"2018/12/13","series":"SEM-SI","value":98.86},{"date":"2018/12/16","series":"SEM-SI","value":98.94},{"date":"2018/12/18","series":"SEM-SI","value":99.12},{"date":"2018/12/21","series":"SEM-SI","value":98.56},{"date":"2018/12/25","series":"SEM-SI","value":98.6},{"date":"2018/12/27","series":"SEM-SI","value":98.56},{"date":"2018/12/29","series":"SEM-SI","value":98.42},{"date":"2019/01/03","series":"SEM-SI","value":98.42},{"date":"2019/01/05","series":"SEM-SI","value":98.27},{"date":"2019/01/08","series":"SEM-SI","value":98.18},{"date":"2019/01/09","series":"SEM-SI","value":98.27},{"date":"2019/01/11","series":"SEM-SI","value":97.75},{"date":"2019/01/13","series":"SEM-SI","value":98.13},{"date":"2019/01/15","series":"SEM-SI","value":98.82},{"date":"2019/01/18","series":"SEM-SI","value":99.52},{"date":"2019/01/20","series":"SEM-SI","value":99.39},{"date":"2019/01/23","series":"SEM-SI","value":99.77},{"date":"2019/01/26","series":"SEM-SI","value":99.77},{"date":"2019/01/29","series":"SEM-SI","value":99.74},{"date":"2019/01/31","series":"SEM-SI","value":99.32},{"date":"2019/02/04","series":"SEM-SI","value":99.27},{"date":"2019/02/07","series":"SEM-SI","value":98.9},{"date":"2019/02/08","series":"SEM-SI","value":99.36},{"date":"2019/02/12","series":"SEM-SI","value":99.29},{"date":"2019/02/14","series":"SEM-SI","value":99.15},{"date":"2019/02/16","series":"SEM-SI","value":99.45},{"date":"2019/02/18","series":"SEM-SI","value":99.67},{"date":"2019/02/20","series":"SEM-SI","value":99.45},{"date":"2019/02/21","series":"SEM-SI","value":99.88},{"date":"2019/02/24","series":"SEM-SI","value":99.58},{"date":"2019/02/26","series":"SEM-SI","value":99.29},{"date":"2019/03/01","series":"SEM-SI","value":99.6},{"date":"2019/03/04","series":"SEM-SI","value":99.39},{"date":"2019/03/06","series":"SEM-SI","value":99.01},{"date":"2019/03/08","series":"SEM-SI","value":98.9},{"date":"2019/03/11","series":"SEM-SI","value":98.84},{"date":"2019/03/14","series":"SEM-SI","value":98.56},{"date":"2019/03/16","series":"SEM-SI","value":98.41},{"date":"2019/03/20","series":"SEM-SI","value":98.22},{"date":"2019/03/21","series":"SEM-SI","value":98.15},{"date":"2019/03/22","series":"SEM-SI","value":97.7},{"date":"2019/03/26","series":"SEM-SI","value":97.66},{"date":"2019/03/28","series":"SEM-SI","value":97.72},{"date":"2019/03/29","series":"SEM-SI","value":97.58},{"date":"2019/04/01","series":"SEM-SI","value":97.66},{"date":"2019/04/02","series":"SEM-SI","value":97.42},{"date":"2019/04/04","series":"SEM-SI","value":97.5},{"date":"2019/04/05","series":"SEM-SI","value":98.37},{"date":"2019/04/09","series":"SEM-SI","value":98.9},{"date":"2019/04/11","series":"SEM-SI","value":98.55},{"date":"2019/04/12","series":"SEM-SI","value":98.46},{"date":"2019/04/15","series":"SEM-SI","value":98.55},{"date":"2019/04/17","series":"SEM-SI","value":98.06},{"date":"2019/04/18","series":"SEM-SI","value":97.84},{"date":"2019/04/22","series":"SEM-SI","value":98.06},{"date":"2019/04/23","series":"SEM-SI","value":97.71},{"date":"2019/04/25","series":"SEM-SI","value":97.8},{"date":"2019/04/30","series":"SEM-SI","value":97.94},{"date":"2019/05/03","series":"SEM-SI","value":97.98},{"date":"2019/05/06","series":"SEM-SI","value":97.96},{"date":"2019/05/07","series":"SEM-SI","value":97.47},{"date":"2019/05/09","series":"SEM-SI","value":97.13},{"date":"2019/05/14","series":"SEM-SI","value":97.22},{"date":"2019/05/15","series":"SEM-SI","value":97.87},{"date":"2019/05/17","series":"SEM-SI","value":97.52},{"date":"2019/05/20","series":"SEM-SI","value":97.56},{"date":"2019/05/23","series":"SEM-SI","value":97.5},{"date":"2019/05/24","series":"SEM-SI","value":97.59},{"date":"2019/05/27","series":"SEM-SI","value":97.25},{"date":"2019/05/29","series":"SEM-SI","value":97.52},{"date":"2019/05/31","series":"SEM-SI","value":97.1},{"date":"2019/06/05","series":"SEM-SI","value":97.19},{"date":"2019/06/08","series":"SEM-SI","value":96.92},{"date":"2019/06/10","series":"SEM-SI","value":96.69},{"date":"2019/06/12","series":"SEM-SI","value":97.1},{"date":"2019/06/14","series":"SEM-SI","value":96.69},{"date":"2019/06/17","series":"SEM-SI","value":96.64},{"date":"2019/06/18","series":"SEM-SI","value":96.53},{"date":"2019/06/20","series":"SEM-SI","value":96.3},{"date":"2019/06/23","series":"SEM-SI","value":97.92},{"date":"2019/06/25","series":"SEM-SI","value":99.81},{"date":"2019/06/26","series":"SEM-SI","value":99.85},{"date":"2019/06/27","series":"SEM-SI","value":97.85},{"date":"2019/06/29","series":"SEM-SI","value":97.8},{"date":"2019/07/01","series":"SEM-SI","value":98.11},{"date":"2019/07/03","series":"SEM-SI","value":97.77},{"date":"2019/07/05","series":"SEM-SI","value":97.96},{"date":"2019/07/08","series":"SEM-SI","value":98.7},{"date":"2019/07/09","series":"SEM-SI","value":99.12},{"date":"2019/07/10","series":"SEM-SI","value":98.46},{"date":"2019/07/11","series":"SEM-SI","value":98.93},{"date":"2019/07/14","series":"SEM-SI","value":99.05},{"date":"2019/07/17","series":"SEM-SI","value":99.27},{"date":"2019/07/18","series":"SEM-SI","value":98.65},{"date":"2019/07/21","series":"SEM-SI","value":99.08},{"date":"2019/07/23","series":"SEM-SI","value":98.96},{"date":"2019/07/26","series":"SEM-SI","value":98.65},{"date":"2019/07/30","series":"SEM-SI","value":98.08},{"date":"2019/08/02","series":"SEM-SI","value":98.55},{"date":"2019/08/04","series":"SEM-SI","value":98.43},{"date":"2019/08/06","series":"SEM-SI","value":97.96},{"date":"2019/08/07","series":"SEM-SI","value":98.39},{"date":"2019/08/10","series":"SEM-SI","value":98.36},{"date":"2019/08/12","series":"SEM-SI","value":99.24},{"date":"2019/08/14","series":"SEM-SI","value":99.39},{"date":"2019/08/16","series":"SEM-SI","value":99.39},{"date":"2019/08/18","series":"SEM-SI","value":99.17},{"date":"2019/08/21","series":"SEM-SI","value":99.52},{"date":"2019/08/22","series":"SEM-SI","value":99.17},{"date":"2019/08/25","series":"SEM-SI","value":99.52},{"date":"2019/08/27","series":"SEM-SI","value":99.65},{"date":"2019/08/29","series":"SEM-SI","value":99.43},{"date":"2019/08/31","series":"SEM-SI","value":99.39},{"date":"2019/09/02","series":"SEM-SI","value":99.65},{"date":"2019/09/04","series":"SEM-SI","value":99.39},{"date":"2019/09/05","series":"SEM-SI","value":98.3},{"date":"2019/09/06","series":"SEM-SI","value":97.92},{"date":"2019/09/10","series":"SEM-SI","value":97.64},{"date":"2019/09/12","series":"SEM-SI","value":97.1},{"date":"2019/09/13","series":"SEM-SI","value":97.3},{"date":"2019/09/17","series":"SEM-SI","value":97.3},{"date":"2019/09/20","series":"SEM-SI","value":98.04},{"date":"2019/09/22","series":"SEM-SI","value":97.89},{"date":"2019/09/24","series":"SEM-SI","value":97.89},{"date":"2019/09/26","series":"SEM-SI","value":97.49},{"date":"2019/09/27","series":"SEM-SI","value":97.92},{"date":"2019/09/30","series":"SEM-SI","value":98.39}
]},
"mark": {"type": "line", "strokeJoin": "round", "strokeCap": "round"},
"encoding": {
  "x": {"field": "date", "type": "temporal",
    "scale": {"domain": [{"year": 2018, "month": 9, "date": 30}, {"year": 2019, "month": 9, "date": 30}]},
    "axis": {"title": null, "format": "%b-%y", "grid": false,
      "values": [{"year": 2018, "month": 9, "date": 30}, {"year": 2018, "month": 11, "date": 30}, {"year": 2019, "month": 1, "date": 30}, {"year": 2019, "month": 3, "date": 30}, {"year": 2019, "month": 5, "date": 30}, {"year": 2019, "month": 7, "date": 30}, {"year": 2019, "month": 9, "date": 30}],
      "labelAngle": -45, "labelAlign": "right", "labelBaseline": "middle", "labelFontSize": 23, "labelFont": "Lato", "labelColor": "#000000", "labelPadding": 16, "labelFlush": false, "labelOverlap": false,
      "tickSize": 8, "tickColor": "#a6a6a6", "tickWidth": 1.5, "domainColor": "#a6a6a6", "domainWidth": 1.5}},
  "y": {"field": "value", "type": "quantitative",
    "scale": {"domain": [92, 106], "nice": false, "zero": false},
    "axis": {"title": "Indices = 100\u00a0\u00a0on\u00a0\u00a030-Sept-2018", "values": [92, 96, 100, 104],
      "grid": true, "gridColor": "#a6a6a6", "gridWidth": 1.5,
      "domainColor": "#a6a6a6", "domainWidth": 1.5, "tickColor": "#a6a6a6", "tickWidth": 1.5, "tickSize": 10,
      "labelFontSize": 25, "labelFont": "Lato", "labelColor": "#000000", "labelPadding": 20,
      "titleFontSize": 23, "titleFont": "Lato", "titleFontWeight": "bold", "titleColor": "#000000",
      "titleX": -99, "titleY": 395, "titleAngle": -90, "titleAlign": "center", "titleBaseline": "middle"}},
  "color": {"field": "series", "type": "nominal",
    "scale": {"domain": ["ALEX-20", "ALCAPEX-12", "MSCI FM", "SEMDEX", "SEM-SI"], "range": ["#736762", "#F2A900", "#00A499", "#D22630", "#00A3E0"]},
    "legend": {"title": null, "orient": "none", "legendX": 17, "legendY": 3, "direction": "horizontal", "columns": 3, "gridAlign": "all", "columnPadding": 12, "rowPadding": 7, "symbolType": "stroke", "symbolSize": 2900, "labelFontSize": 22, "labelFont": "Lato", "labelColor": "#000000", "labelOffset": 3, "padding": 0}},
  "strokeWidth": {"field": "series", "type": "nominal",
    "scale": {"type": "ordinal", "domain": ["ALEX-20", "ALCAPEX-12", "MSCI FM", "SEMDEX", "SEM-SI"], "range": [8, 8, 7, 4.5, 4]},
    "legend": {"title": null, "orient": "none", "legendX": 17, "legendY": 3, "direction": "horizontal", "columns": 3, "gridAlign": "all", "columnPadding": 12, "rowPadding": 7, "symbolType": "stroke", "symbolSize": 2900, "labelFontSize": 22, "labelFont": "Lato", "labelColor": "#000000", "labelOffset": 3, "padding": 0}}
}
}
